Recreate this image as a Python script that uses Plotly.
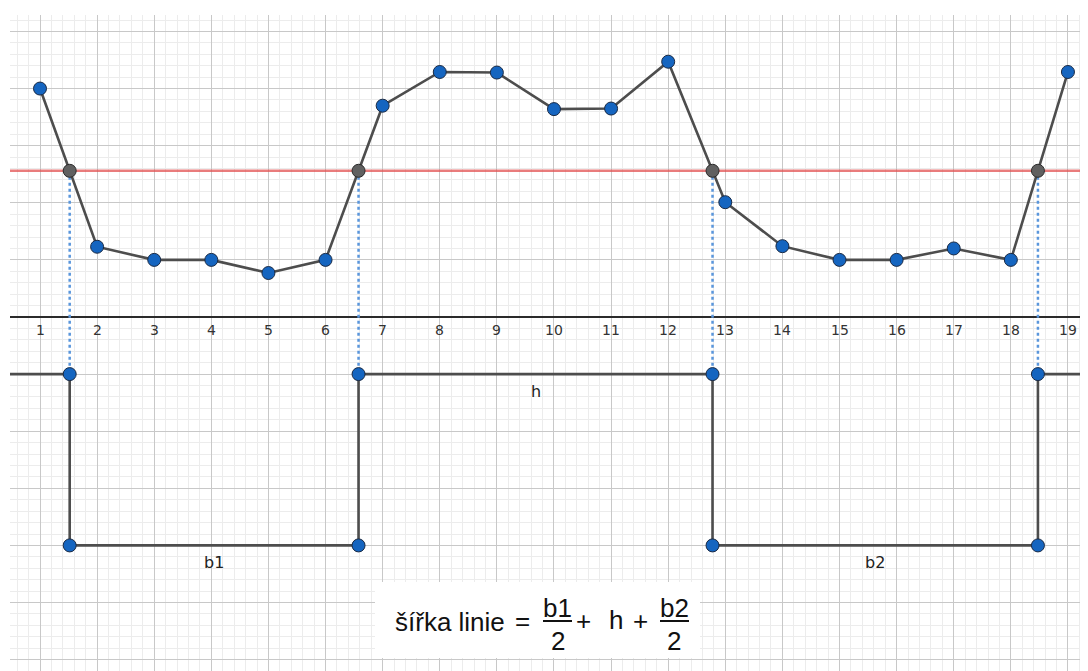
import numpy as np
import plotly.graph_objects as go

# ---- data ----
x_vals = list(range(1, 20))
y_vals = [4.0, 1.23, 1.0, 1.0, 0.77, 1.0, 3.70, 4.29, 4.28, 3.64, 3.65, 4.47,
          2.01, 1.24, 1.0, 1.0, 1.20, 1.0, 4.29]
threshold = 2.56
wave_high = -1.0
wave_low = -4.0
tick_labels = [str(i) for i in x_vals]
seg_labels = ["b1", "h", "b2"]

# ---- axes ranges (pixel-matched) ----
X0, X1 = 0.4747, 19.351
Y0, Y1 = -6.199, 5.288

# ---- intersections of the polyline with the threshold ----
xs = np.array(x_vals, float)
ys = np.array(y_vals, float)
inter = []
for i in range(len(xs) - 1):
    a, b = ys[i] - threshold, ys[i + 1] - threshold
    if a * b < 0:
        t = a / (a - b)
        inter.append(xs[i] + t * (xs[i + 1] - xs[i]))

fig = go.Figure()

# red threshold line
fig.add_trace(go.Scatter(x=[X0, X1], y=[threshold, threshold], mode="lines",
                         line=dict(color="rgba(225,80,80,0.75)", width=2.5),
                         hoverinfo="skip", showlegend=False))

# dotted verticals
dx, dy = [], []
for xi in inter:
    dx += [xi, xi, None]
    dy += [threshold, wave_high, None]
fig.add_trace(go.Scatter(x=dx, y=dy, mode="lines",
                         line=dict(color="#5a96dc", width=2.5, dash="dot"),
                         hoverinfo="skip", showlegend=False))

# data polyline
fig.add_trace(go.Scatter(x=x_vals, y=y_vals, mode="lines",
                         line=dict(color="#4d4d4d", width=2.6),
                         showlegend=False))

# square wave
sq_x = [X0]
sq_y = [wave_high]
corner_x, corner_y = [], []
level = wave_high
for xi in inter:
    other = wave_low if level == wave_high else wave_high
    sq_x += [xi, xi]
    sq_y += [level, other]
    corner_x += [xi, xi]
    corner_y += [level, other]
    level = other
sq_x.append(X1)
sq_y.append(level)
fig.add_trace(go.Scatter(x=sq_x, y=sq_y, mode="lines",
                         line=dict(color="#4d4d4d", width=2.6),
                         hoverinfo="skip", showlegend=False))

# intersection markers
fig.add_trace(go.Scatter(x=inter, y=[threshold] * len(inter), mode="markers",
                         marker=dict(size=13, color="#606060",
                                     line=dict(color="#2a2a2a", width=1)),
                         showlegend=False))
# data markers
fig.add_trace(go.Scatter(x=x_vals, y=y_vals, mode="markers",
                         marker=dict(size=13, color="#1565c0",
                                     line=dict(color="#1a2a44", width=1)),
                         showlegend=False))
# corner markers
fig.add_trace(go.Scatter(x=corner_x, y=corner_y, mode="markers",
                         marker=dict(size=13, color="#1565c0",
                                     line=dict(color="#1a2a44", width=1)),
                         showlegend=False))

annotations = []
# x tick labels under the axis line
for xv, lab in zip(x_vals, tick_labels):
    annotations.append(dict(x=xv, y=0, xref="x", yref="y", text=lab,
                            showarrow=False, yshift=-13,
                            font=dict(family="DejaVu Sans", size=14, color="#333333")))

# segment labels
mids = [(inter[i] + inter[i + 1]) / 2 for i in range(len(inter) - 1)]
seg_levels = [wave_low, wave_high, wave_low]
for m, lv, lab in zip(mids, seg_levels, seg_labels):
    annotations.append(dict(x=m, y=lv, xref="x", yref="y", text=lab,
                            showarrow=False, yshift=-17,
                            font=dict(family="DejaVu Sans", size=16, color="#222222")))

# formula (pixel -> paper helpers; plot area spans page px 10..1088, 15..671)
def px(v):
    return (v - 10) / 1078.0

def py(v):
    return (671 - v) / 656.0

ff = "Liberation Sans"
fs = 26
fc = "#111111"
def txt(x, y, s, anchor="center", size=fs):
    annotations.append(dict(x=px(x), y=py(y), xref="paper", yref="paper",
                            text=s, showarrow=False, xanchor=anchor,
                            yanchor="middle",
                            font=dict(family=ff, size=size, color=fc)))

txt(507, 622, "šířka linie", anchor="right")
txt(522.5, 621, "=")
txt(557.5, 608, "b1")
txt(557.5, 641, "2")
txt(583, 621, "+")
txt(615.5, 620, "h")
txt(640, 621, "+")
txt(674, 608, "b2")
txt(674, 641, "2")

shapes = [
    dict(type="rect", xref="paper", yref="paper", x0=px(375), x1=px(700),
         y0=py(658), y1=py(582), fillcolor="white", line=dict(width=0),
         layer="above"),
    dict(type="line", xref="paper", yref="paper", x0=px(543), x1=px(572),
         y0=py(621), y1=py(621), line=dict(color=fc, width=2), layer="above"),
    dict(type="line", xref="paper", yref="paper", x0=px(660), x1=px(689),
         y0=py(621), y1=py(621), line=dict(color=fc, width=2), layer="above"),
]

# the page body adds an 8px offset; size/margins compensate for it
fig.update_layout(
    width=1080, height=663,
    margin=dict(l=2, r=0, t=7, b=0),
    paper_bgcolor="white", plot_bgcolor="white",
    annotations=annotations, shapes=shapes,
    xaxis=dict(range=[X0, X1], showgrid=True, gridcolor="#c8c8c8", gridwidth=1,
               tick0=0, dtick=1, showticklabels=False, zeroline=False,
               ticks="", showline=False,
               minor=dict(dtick=0.2, tick0=0, showgrid=True,
                          gridcolor="#ececec", gridwidth=1)),
    yaxis=dict(range=[Y0, Y1], showgrid=True, gridcolor="#c8c8c8", gridwidth=1,
               tick0=0, dtick=1, showticklabels=False, zeroline=True,
               zerolinecolor="#2b2b2b", zerolinewidth=1.6, ticks="", showline=False,
               minor=dict(dtick=0.2, tick0=0, showgrid=True,
                          gridcolor="#ececec", gridwidth=1)),
)

fig.write_html("out.html",
               post_script="document.documentElement.style.overflow='hidden';"
                           "document.body.style.overflow='hidden';")
